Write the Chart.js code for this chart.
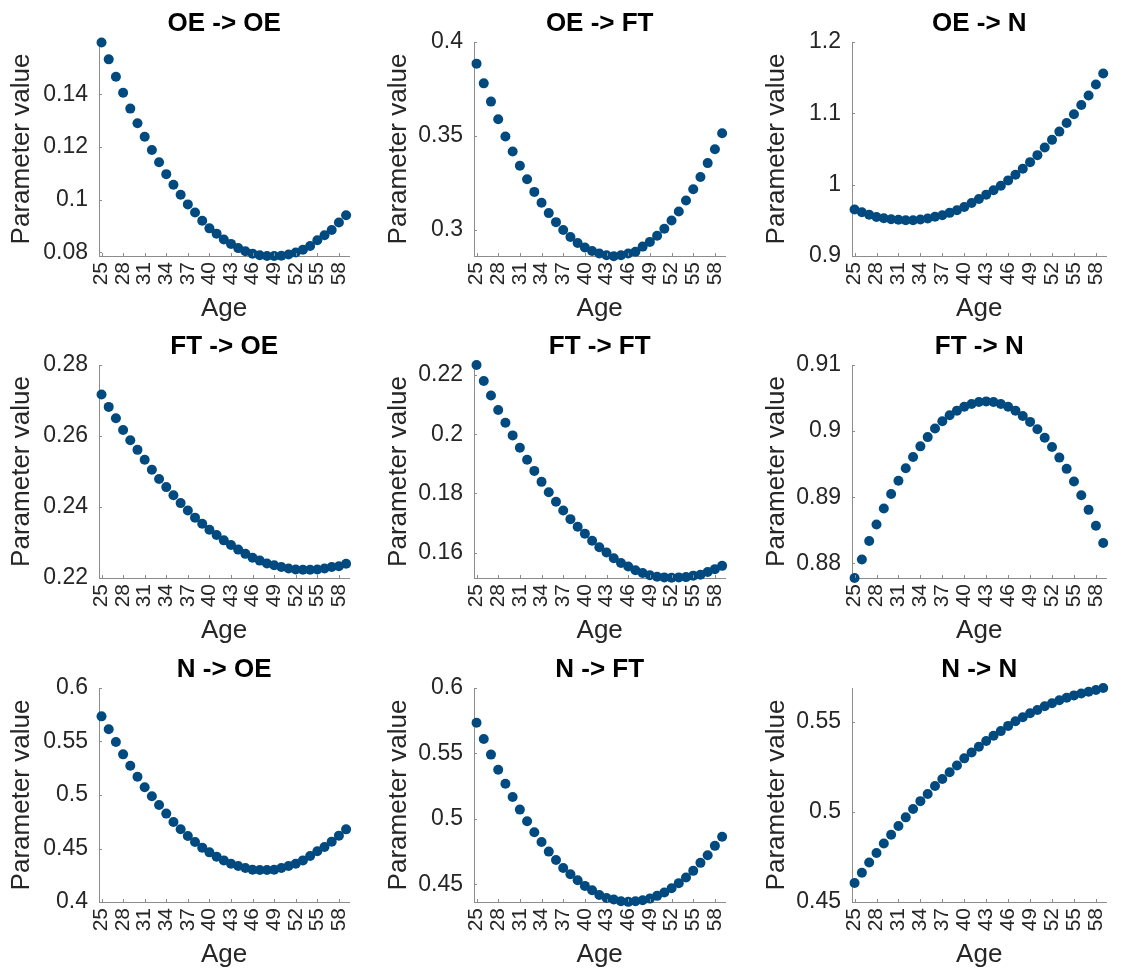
<!DOCTYPE html>
<html><head><meta charset="utf-8">
<script src="https://cdn.jsdelivr.net/npm/chart.js@4.4.0/dist/chart.umd.min.js"></script>
<style>
html,body{margin:0;padding:0;background:#fff;}
#wrap{position:relative;width:1128px;height:972px;overflow:hidden;background:#fff;}
#wrap canvas{position:absolute;}
</style></head><body><div id="wrap"></div>
<script>
// ---------- data ----------
const ages = [25,26,27,28,29,30,31,32,33,34,35,36,37,38,39,40,41,42,43,44,45,46,47,48,49,50,51,52,53,54,55,56,57,58,59];
const xTickValues = [25,28,31,34,37,40,43,46,49,52,55,58];

const panelTitles = ["OE -> OE","OE -> FT","OE -> N","FT -> OE","FT -> FT","FT -> N","N -> OE","N -> FT","N -> N"];

const oeToOe = [0.1597,0.1533,0.1467,0.1406,0.1346,0.1290,0.1239,0.1189,0.1142,0.1097,0.1057,0.1019,0.0982,0.0951,0.0920,0.0891,0.0871,0.0849,0.0832,0.0816,0.0804,0.0795,0.0789,0.0786,0.0786,0.0787,0.0792,0.0799,0.0810,0.0824,0.0846,0.0865,0.0885,0.0913,0.0941];
const oeToFt = [0.3885,0.3780,0.3683,0.3589,0.3497,0.3418,0.3342,0.3270,0.3203,0.3145,0.3090,0.3042,0.3000,0.2963,0.2931,0.2907,0.2889,0.2875,0.2866,0.2861,0.2866,0.2875,0.2885,0.2912,0.2937,0.2970,0.3007,0.3051,0.3099,0.3157,0.3217,0.3282,0.3356,0.3430,0.3515];
const oeToN = [0.9651,0.9614,0.9579,0.9547,0.9530,0.9516,0.9507,0.9502,0.9502,0.9512,0.9526,0.9549,0.9572,0.9605,0.9642,0.9688,0.9744,0.9800,0.9860,0.9921,0.9986,1.0060,1.0140,1.0223,1.0316,1.0414,1.0521,1.0628,1.0744,1.0865,1.0986,1.1116,1.1251,1.1405,1.1558];
const ftToOe = [0.2717,0.2682,0.2650,0.2617,0.2588,0.2561,0.2533,0.2505,0.2479,0.2456,0.2433,0.2411,0.2390,0.2370,0.2353,0.2336,0.2321,0.2306,0.2293,0.2280,0.2268,0.2257,0.2249,0.2241,0.2236,0.2231,0.2227,0.2224,0.2223,0.2223,0.2224,0.2227,0.2231,0.2233,0.2240];
const ftToFt = [0.2234,0.2180,0.2131,0.2082,0.2039,0.1996,0.1954,0.1914,0.1876,0.1839,0.1804,0.1772,0.1742,0.1713,0.1687,0.1664,0.1640,0.1618,0.1600,0.1581,0.1565,0.1553,0.1540,0.1531,0.1523,0.1518,0.1516,0.1515,0.1516,0.1517,0.1522,0.1525,0.1534,0.1544,0.1555];
const ftToN = [0.8778,0.8806,0.8834,0.8859,0.8883,0.8905,0.8925,0.8944,0.8961,0.8977,0.8991,0.9004,0.9015,0.9024,0.9031,0.9037,0.9041,0.9044,0.9045,0.9044,0.9041,0.9037,0.9031,0.9023,0.9014,0.9003,0.8990,0.8976,0.8960,0.8943,0.8924,0.8903,0.8881,0.8857,0.8831];
const nToOe = [0.5735,0.5615,0.5495,0.5380,0.5274,0.5171,0.5072,0.4988,0.4907,0.4826,0.4748,0.4680,0.4617,0.4561,0.4508,0.4464,0.4424,0.4389,0.4358,0.4336,0.4318,0.4302,0.4299,0.4299,0.4302,0.4318,0.4336,0.4358,0.4389,0.4430,0.4474,0.4514,0.4564,0.4620,0.4679];
const nToFt = [0.5735,0.5610,0.5491,0.5376,0.5269,0.5167,0.5071,0.4982,0.4898,0.4824,0.4750,0.4686,0.4625,0.4577,0.4531,0.4488,0.4455,0.4419,0.4396,0.4384,0.4371,0.4366,0.4371,0.4379,0.4391,0.4412,0.4437,0.4470,0.4509,0.4552,0.4603,0.4664,0.4722,0.4794,0.4863];
const nToN = [0.4605,0.4662,0.4719,0.4772,0.4824,0.4873,0.4921,0.4969,0.5015,0.5059,0.5099,0.5143,0.5182,0.5219,0.5256,0.5296,0.5329,0.5360,0.5392,0.5421,0.5447,0.5476,0.5502,0.5524,0.5546,0.5564,0.5585,0.5601,0.5618,0.5632,0.5645,0.5656,0.5665,0.5675,0.5686];

const yTicksOeOe = [0.08,0.1,0.12,0.14];
const yTicksOeFt = [0.3,0.35,0.4];
const yTicksOeN  = [0.9,1,1.1,1.2];
const yTicksFtOe = [0.22,0.24,0.26,0.28];
const yTicksFtFt = [0.16,0.18,0.2,0.22];
const yTicksFtN  = [0.88,0.89,0.9,0.91];
const yTicksNOe  = [0.4,0.45,0.5,0.55,0.6];
const yTicksNFt  = [0.45,0.5,0.55,0.6];
const yTicksNN   = [0.45,0.5,0.55];

const yRangeOeOe = [0.0786,0.1599];
const yRangeOeFt = [0.2862,0.4];
const yRangeOeN  = [0.9,1.2];
const yRangeFtOe = [0.22,0.28];
const yRangeFtFt = [0.1514,0.2234];
const yRangeFtN  = [0.8778,0.91];
const yRangeNOe  = [0.4,0.6];
const yRangeNFt  = [0.4365,0.6];
const yRangeNN   = [0.45,0.5686];
const xRange = [24.65,59.45];

const panelSeries = [oeToOe,oeToFt,oeToN,ftToOe,ftToFt,ftToN,nToOe,nToFt,nToN];
const panelYTicks = [yTicksOeOe,yTicksOeFt,yTicksOeN,yTicksFtOe,yTicksFtFt,yTicksFtN,yTicksNOe,yTicksNFt,yTicksNN];
const panelYRange = [yRangeOeOe,yRangeOeFt,yRangeOeN,yRangeFtOe,yRangeFtFt,yRangeFtN,yRangeNOe,yRangeNFt,yRangeNN];

// ---------- layout ----------
const colLeft = [99,474,852], colRight = [368,744,1125];
const rowTop = [42,365,688], rowBottom = [256,578,902];
const LEFT_W = 98, TOP_H = 34, BOTTOM_H = 70, RIGHT_PAD = 3;
const FONT = "'Liberation Sans', Arial, Helvetica, sans-serif";
const markerColor = '#004a80';
const axisColor = '#8c8c8c';
const textColor = '#262626';
const TITLE_SIZE = 26;

const inwardTicks = {
  id: 'inwardTicks',
  afterDraw(chart) {
    const ctx = chart.ctx, a = chart.chartArea;
    const xs = chart.scales.x, ys = chart.scales.y;
    ctx.save();
    ctx.strokeStyle = axisColor; ctx.lineWidth = 1;
    ctx.beginPath();
    xs.ticks.forEach(t => { const p = Math.round(xs.getPixelForValue(t.value)) + 0.5; ctx.moveTo(p, a.bottom); ctx.lineTo(p, a.bottom - 3); });
    ys.ticks.forEach(t => { const p = Math.round(ys.getPixelForValue(t.value)) + 0.5; ctx.moveTo(a.left, p); ctx.lineTo(a.left + 3, p); });
    ctx.stroke();
    ctx.restore();
  }
};

const wrap = document.getElementById('wrap');
for (let i = 0; i < 9; i++) {
  const r = Math.floor(i / 3), c = i % 3;
  const left = Math.max(0, colLeft[c] - LEFT_W), top = rowTop[r] - TOP_H;
  const leftW = colLeft[c] - left;
  const w = colRight[c] + RIGHT_PAD - left;
  const h = rowBottom[r] + BOTTOM_H - top;
  const cv = document.createElement('canvas');
  cv.width = w; cv.height = h;
  cv.style.left = left + 'px'; cv.style.top = top + 'px';
  cv.style.width = w + 'px'; cv.style.height = h + 'px';
  wrap.appendChild(cv);
  const yt = panelYTicks[i];
  new Chart(cv, {
    type: 'scatter',
    data: { datasets: [{
      data: ages.map((a, k) => ({ x: a, y: panelSeries[i][k] })),
      backgroundColor: markerColor, borderColor: markerColor, borderWidth: 0,
      pointRadius: 5, pointHoverRadius: 5, clip: false
    }]},
    options: {
      responsive: false, animation: false, devicePixelRatio: 1,
      layout: { padding: { left: 0, top: 0, right: RIGHT_PAD, bottom: 0 } },
      plugins: {
        legend: { display: false }, tooltip: { enabled: false },
        title: { display: true, fullSize: false, text: panelTitles[i], color: '#000',
          font: { family: FONT, size: TITLE_SIZE, weight: 'bold', lineHeight: 1.2 },
          padding: { top: 0, bottom: TOP_H - TITLE_SIZE * 1.2 } }
      },
      scales: {
        x: {
          type: 'linear', min: xRange[0], max: xRange[1],
          afterBuildTicks: s => { s.ticks = xTickValues.map(v => ({ value: v })); },
          afterFit: s => { s.height = BOTTOM_H; },
          grid: { display: false, drawTicks: false },
          border: { display: true, color: axisColor, width: 1 },
          ticks: { autoSkip: false, maxRotation: 90, minRotation: 90, padding: 6, color: textColor,
            font: { family: FONT, size: 21 }, callback: v => String(v) },
          title: { display: true, text: 'Age', color: textColor, font: { family: FONT, size: 26, lineHeight: 1.2 },
            padding: { top: 0, bottom: 2 } }
        },
        y: {
          type: 'linear', min: panelYRange[i][0], max: panelYRange[i][1],
          afterBuildTicks: s => { s.ticks = yt.map(v => ({ value: v })); },
          afterFit: s => { s.width = leftW; },
          grid: { display: false, drawTicks: false },
          border: { display: true, color: axisColor, width: 1 },
          ticks: { padding: 11, color: textColor, font: { family: FONT, size: 23 },
            callback: v => String(+Number(v).toFixed(4)) },
          title: { display: true, text: 'Parameter value', color: textColor, font: { family: FONT, size: 26, lineHeight: 1.2 },
            padding: { top: (c === 0 ? 5 : 7), bottom: 0 } }
        }
      }
    },
    plugins: [inwardTicks]
  });
}
</script>
</body></html>
